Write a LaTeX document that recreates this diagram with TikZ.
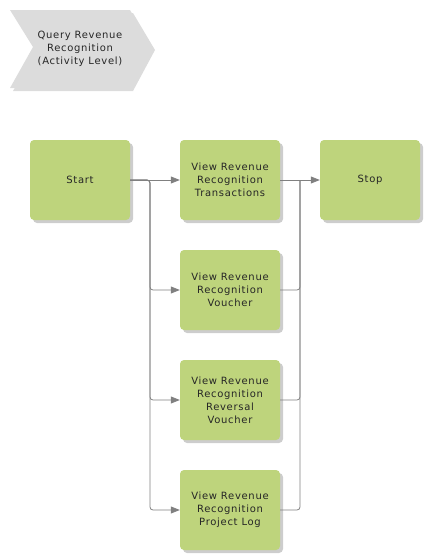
\documentclass[tikz,border=0pt]{standalone}
\usepackage{fontspec}
\setmainfont{DejaVu Sans}[LetterSpace=7]
\usetikzlibrary{arrows.meta}
\definecolor{boxgreen}{RGB}{190,212,124}
\definecolor{hdrgray}{RGB}{220,220,220}
\definecolor{shadowgray}{RGB}{205,205,205}
\definecolor{linegray}{RGB}{128,128,128}
\begin{document}
\begin{tikzpicture}[x=1pt,y=-1pt,
  txt/.style={font=\fontsize{10}{13}\selectfont,align=center,text=black!85},
  stepbox/.style={txt,draw=none,fill=boxgreen,rounded corners=4pt,minimum width=100pt,minimum height=80pt,
    inner sep=0pt,
    preaction={fill=shadowgray,transform canvas={shift={(3pt,-3pt)}}}},
  conn/.style={draw=linegray,line width=0.8pt,rounded corners=3pt},
  arr/.style={conn,-{Triangle[length=9pt,width=7pt]}}]
\useasboundingbox (0,0) rectangle (437,560);
% header chevron
\fill[shadowgray!70] (13,13) -- (133,13) -- (155,50) -- (133,91) -- (13,91) -- (36,50) -- cycle;
\fill[hdrgray] (10,10) -- (130,10) -- (152,47) -- (130,88) -- (10,88) -- (33,47) -- cycle;
\node[txt] (hdr) at (80,49) {Query Revenue\\Recognition\\(Activity Level)};
% boxes
\node[stepbox] (start) at (80,180) {Start};
\node[stepbox] (trans) at (230,180) {View Revenue\\Recognition\\Transactions};
\node[stepbox] (stop) at (370,180) {Stop};
\node[stepbox] (vouch) at (230,290) {View Revenue\\Recognition\\Voucher};
\node[stepbox] (rev) at (230,400) {View Revenue\\Recognition\\Reversal\\Voucher};
\node[stepbox] (plog) at (230,510) {View Revenue\\Recognition\\Project Log};
% connectors
\coordinate (ls) at (150,180);
\coordinate (rs) at (300,180);
\draw[arr] (start.east) -- (trans.west);
\draw[arr] (start.east) -- (ls) |- (vouch.west);
\draw[arr] (start.east) -- (ls) |- (rev.west);
\draw[arr] (start.east) -- (ls) |- (plog.west);
\draw[arr] (trans.east) -- (stop.west);
\draw[conn] (vouch.east) -| (rs);
\draw[conn] (rev.east) -| (rs);
\draw[conn] (plog.east) -| (rs);
\end{tikzpicture}
\end{document}
